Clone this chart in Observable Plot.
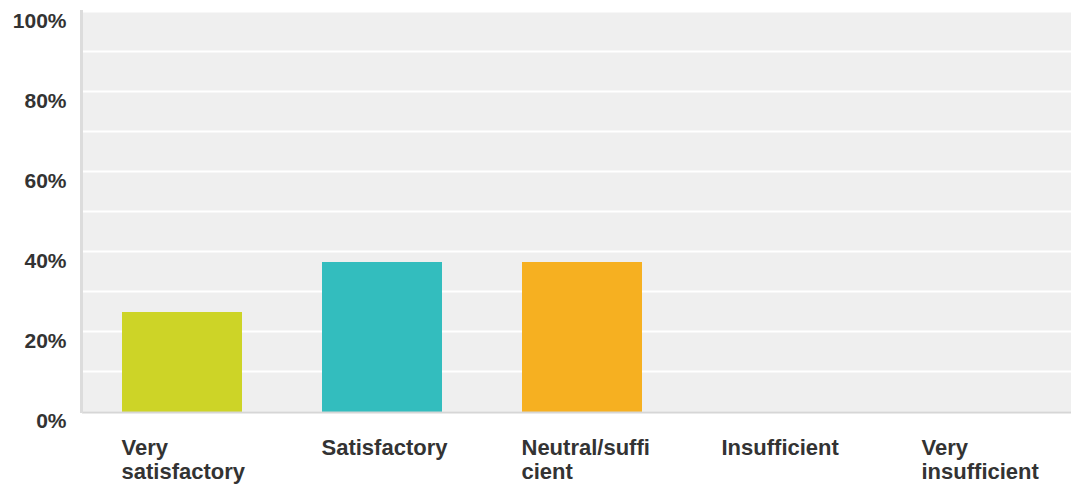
<!DOCTYPE html>
<html>
<head>
<meta charset="utf-8">
<script src="https://cdn.jsdelivr.net/npm/d3@7"></script>
<script src="https://cdn.jsdelivr.net/npm/@observablehq/plot@0.6"></script>
<style>
  html, body { margin: 0; padding: 0; background: #fff; }
  #chart svg { display: block; }
</style>
</head>
<body>
<div id="chart"></div>
<script>
const categories = ["Very satisfactory", "Satisfactory", "Neutral/sufficient", "Insufficient", "Very insufficient"];
const tickLabels = ["Very\nsatisfactory", "Satisfactory", "Neutral/suffi\ncient", "Insufficient", "Very\ninsufficient"];
const values = [0.25, 0.375, 0.375, 0, 0];
const colors = ["#cdd427", "#33bdbe", "#f6b021", "#8cc63f", "#e0584e"];
const yTicks = [0, 0.2, 0.4, 0.6, 0.8, 1.0];
const gridTicks = [0.1, 0.2, 0.3, 0.4, 0.5, 0.6, 0.7, 0.8, 0.9, 1.0];

const data = categories.map((c, i) => ({category: c, value: values[i], label: tickLabels[i]}));
const labelOf = new Map(data.map(d => [d.category, d.label]));

const chart = Plot.plot({
  width: 1071,
  height: 486,
  marginLeft: 82,
  marginRight: 0,
  marginTop: 11,
  marginBottom: 75,
  style: {fontFamily: "'Liberation Sans', Arial, sans-serif", fontSize: "21px", color: "#333", background: "#fff"},
  x: {domain: categories, range: [82, 1082], paddingInner: 0.4, paddingOuter: 0.2, label: null},
  y: {domain: [0, 1], label: null},
  color: {domain: categories, range: colors},
  marks: [
    Plot.frame({fill: "#efefef", stroke: null}),
    Plot.ruleY(gridTicks, {stroke: "#fff", strokeWidth: 2, strokeOpacity: 1}),
    Plot.barY(data, {x: "category", y: "value", fill: "category", dy: 1}),
    Plot.ruleY([0], {stroke: "#d6d6d6", strokeWidth: 2, dy: 1}),
    Plot.frame({anchor: "left", stroke: "#dcdcdc", strokeWidth: 3, dx: -1}),
    Plot.axisY({ticks: yTicks, tickFormat: d3.format(".0%"), tickSize: 0, tickPadding: 16, dy: 10,
      fontSize: 21, fontWeight: "bold", fill: "#333", label: null}),
    Plot.axisX({tickSize: 0, tickPadding: 26, textAnchor: "start", dx: -61, lineAnchor: "top", lineHeight: 1.1,
      tickFormat: d => labelOf.get(d), fontSize: 22, fontWeight: "bold", fill: "#333", label: null})
  ]
});
document.getElementById("chart").appendChild(chart);
</script>
</body>
</html>
